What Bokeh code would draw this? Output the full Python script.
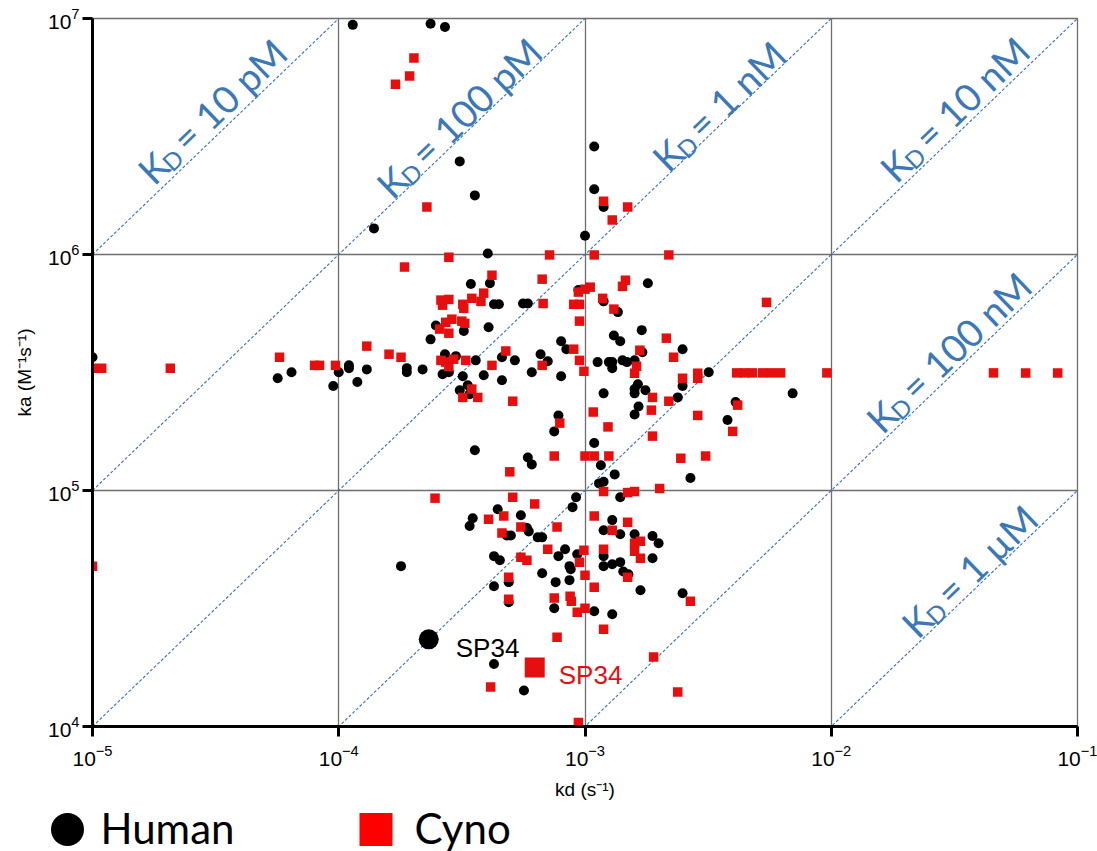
import math

from bokeh.core.properties import value
from bokeh.embed import file_html
from bokeh.layouts import column
from bokeh.models import ColumnDataSource, Range1d
from bokeh.plotting import figure
from bokeh.resources import INLINE

# Dissociation rate constants kd (1/s) and association rate constants ka (1/(M*s))
human_kd = [
    1.14e-4, 2.36e-4, 2.70e-4, 3.10e-4, 3.57e-4, 1.39e-4, 1.09e-3, 1.09e-3, 1.19e-3, 1.00e-3,
    4.03e-4, 3.44e-4, 4.11e-4, 1.80e-3, 4.27e-4, 4.47e-4, 5.60e-4, 5.86e-4, 9.40e-4, 1.19e-3,
    1.36e-3, 2.48e-4, 3.22e-4, 4.06e-4, 2.36e-4, 8.00e-4, 8.40e-4, 1.31e-3, 1.39e-3, 1.70e-3,
    1.71e-3, 2.49e-3, 2.70e-4, 2.99e-4, 3.60e-4, 4.60e-4, 5.19e-4, 6.60e-4, 7.06e-4, 6.08e-4,
    8.00e-4, 1.125e-3, 1.25e-3, 1.29e-3, 1.29e-3, 1.42e-3, 1.48e-3, 1.59e-3, 2.64e-4, 2.80e-4,
    3.19e-4, 3.88e-4, 4.60e-4, 3.34e-4, 3.10e-4, 3.40e-4, 1.10e-4, 1.10e-4, 1.00e-4, 9.50e-5,
    1.19e-4, 1.30e-4, 1.89e-4, 1.89e-4, 2.19e-4, 1.64e-3, 1.59e-3, 1.59e-3, 1.76e-3, 1.19e-3,
    2.49e-3, 2.38e-3, 1.65e-3, 1.59e-3, 7.80e-4, 7.50e-4, 3.57e-4, 1.09e-3, 5.86e-4, 6.08e-4,
    1.16e-3, 1.32e-3, 1.14e-3, 1.19e-3, 2.68e-3, 9.20e-4, 8.90e-4, 1.39e-3, 4.42e-4, 1.00e-5,
    5.65e-5, 6.43e-5, 3.18e-3, 4.09e-3, 3.79e-3, 6.97e-3, 3.50e-4, 3.40e-4, 5.49e-4, 1.29e-3,
    5.81e-4, 5.91e-4, 4.81e-4, 5.00e-4, 1.19e-3, 1.39e-3, 1.59e-3, 1.88e-3, 1.99e-3, 6.43e-4,
    6.70e-4, 8.30e-4, 7.80e-4, 9.30e-4, 1.19e-3, 4.27e-4, 4.51e-4, 8.65e-4, 8.75e-4, 1.19e-3,
    1.29e-3, 1.39e-3, 1.88e-3, 1.43e-3, 1.50e-3, 1.79e-4, 6.70e-4, 7.60e-4, 8.65e-4, 4.90e-4,
    4.27e-4, 1.68e-3, 2.49e-3, 4.90e-4, 7.50e-4, 1.09e-3, 1.29e-3, 4.27e-4, 5.65e-4,
]
human_ka = [
    9.4e6, 9.5e6, 9.2e6, 2.48e6, 1.78e6, 1.29e6, 2.87e6, 1.89e6, 1.59e6, 1.20e6,
    1.01e6, 7.50e5, 7.55e5, 7.55e5, 6.15e5, 6.15e5, 6.20e5, 6.20e5, 7.07e5, 6.33e5,
    5.70e5, 5.00e5, 4.74e5, 4.92e5, 4.37e5, 4.29e5, 3.97e5, 4.54e5, 4.29e5, 4.78e5,
    3.85e5, 3.97e5, 3.78e5, 3.71e5, 3.56e5, 3.67e5, 3.56e5, 3.78e5, 3.53e5, 3.17e5,
    3.05e5, 3.50e5, 3.50e5, 3.50e5, 3.30e5, 3.56e5, 3.50e5, 3.56e5, 3.11e5, 3.17e5,
    3.05e5, 3.08e5, 2.93e5, 2.79e5, 2.66e5, 2.56e5, 3.39e5, 3.30e5, 3.17e5, 2.77e5,
    2.88e5, 3.26e5, 3.30e5, 3.17e5, 3.26e5, 2.82e5, 2.69e5, 2.58e5, 2.66e5, 2.58e5,
    2.77e5, 2.48e5, 2.27e5, 2.10e5, 2.08e5, 1.78e5, 1.48e5, 1.59e5, 1.38e5, 1.29e5,
    1.28e5, 1.17e5, 1.07e5, 1.09e5, 1.13e5, 9.36e4, 8.50e4, 9.36e4, 8.33e4, 3.67e5,
    2.99e5, 3.17e5, 3.17e5, 2.37e5, 1.99e5, 2.58e5, 7.63e4, 7.07e4, 7.86e4, 7.49e4,
    6.93e4, 6.71e4, 6.45e4, 6.45e4, 6.78e4, 6.52e4, 6.52e4, 6.41e4, 5.98e4, 6.33e4,
    6.33e4, 5.64e4, 5.27e4, 5.37e4, 5.27e4, 5.27e4, 5.06e4, 4.78e4, 4.64e4, 4.78e4,
    4.87e4, 4.97e4, 5.16e4, 4.54e4, 4.42e4, 4.78e4, 4.46e4, 4.09e4, 4.17e4, 4.09e4,
    3.93e4, 3.78e4, 3.67e4, 3.36e4, 3.17e4, 3.08e4, 2.99e4, 1.84e4, 1.42e4,
]

cyno_kd = [
    2.02e-4, 1.94e-4, 1.70e-4, 2.28e-4, 1.19e-3, 1.49e-3, 1.29e-3, 2.80e-4, 1.85e-4, 7.18e-4,
    1.09e-3, 2.19e-3, 4.19e-4, 6.70e-4, 1.42e-3, 1.46e-3, 9.40e-4, 1.00e-3, 1.05e-3, 1.18e-3,
    1.31e-3, 9.00e-4, 9.50e-4, 9.50e-4, 6.76e-4, 2.60e-4, 2.80e-4, 2.64e-4, 3.19e-4, 3.22e-4,
    3.47e-4, 3.78e-4, 3.88e-4, 2.72e-4, 2.88e-4, 2.57e-4, 2.80e-4, 3.16e-4, 3.25e-4, 1.30e-4,
    1.60e-4, 1.79e-4, 9.70e-5, 2.60e-4, 2.72e-4, 2.80e-4, 2.93e-4, 3.28e-4, 4.19e-4, 4.77e-4,
    6.70e-4, 9.00e-4, 9.50e-4, 9.90e-4, 2.14e-3, 2.29e-3, 1.67e-3, 1.62e-3, 1.59e-3, 2.49e-3,
    2.87e-3, 2.87e-3, 3.47e-4, 3.19e-4, 3.67e-4, 5.09e-4, 1.88e-3, 2.19e-3, 1.86e-3, 1.08e-3,
    7.90e-4, 1.24e-3, 2.87e-3, 1.88e-3, 7.50e-4, 1.00e-3, 1.09e-3, 1.25e-3, 2.45e-3, 4.95e-4,
    1.19e-3, 1.49e-3, 1.59e-3, 2.01e-3, 5.46e-3, 4.13e-3, 4.45e-3, 4.79e-3, 5.27e-3, 5.72e-3,
    6.23e-3, 9.60e-3, 4.56e-2, 6.16e-2, 8.31e-2, 4.17e-3, 3.98e-3, 3.09e-3, 2.68e-3, 1.90e-3,
    2.38e-3, 5.75e-5, 1.00e-5, 1.09e-5, 2.07e-5, 7.98e-5, 8.36e-5, 1.00e-5, 2.46e-4, 5.09e-4,
    6.25e-4, 4.06e-4, 4.68e-4, 5.49e-4, 4.60e-4, 7.70e-4, 1.09e-3, 1.49e-3, 1.29e-3, 7.06e-4,
    5.49e-4, 5.81e-4, 9.90e-4, 9.50e-4, 1.19e-3, 1.59e-3, 1.68e-3, 1.59e-3, 1.68e-3, 1.00e-3,
    4.90e-4, 1.49e-3, 1.09e-3, 4.90e-4, 7.50e-4, 8.70e-4, 8.80e-4, 9.30e-4, 1.00e-3, 1.19e-3,
    7.70e-4, 4.14e-4, 9.40e-4,
]
cyno_ka = [
    6.80e6, 5.70e6, 5.27e6, 1.59e6, 1.68e6, 1.59e6, 1.40e6, 9.73e5, 8.85e5, 9.96e5,
    9.96e5, 9.96e5, 8.17e5, 7.86e5, 7.33e5, 7.78e5, 6.93e5, 7.13e5, 7.27e5, 6.52e5,
    5.87e5, 6.15e5, 6.15e5, 5.22e5, 6.20e5, 6.41e5, 6.45e5, 6.10e5, 6.15e5, 5.92e5,
    6.52e5, 6.33e5, 6.86e5, 5.16e5, 5.32e5, 4.83e5, 4.64e5, 5.22e5, 5.11e5, 4.09e5,
    3.78e5, 3.67e5, 3.39e5, 3.56e5, 3.50e5, 3.36e5, 3.60e5, 3.56e5, 3.39e5, 3.90e5,
    3.39e5, 3.97e5, 3.56e5, 3.20e5, 4.42e5, 3.67e5, 3.93e5, 3.36e5, 3.14e5, 2.99e5,
    3.14e5, 2.99e5, 2.69e5, 2.48e5, 2.48e5, 2.39e5, 2.48e5, 2.39e5, 2.19e5, 2.15e5,
    1.93e5, 1.86e5, 2.08e5, 1.70e5, 1.40e5, 1.40e5, 1.40e5, 1.40e5, 1.37e5, 1.20e5,
    9.90e4, 9.80e4, 9.90e4, 1.02e5, 6.27e5, 3.15e5, 3.15e5, 3.15e5, 3.15e5, 3.15e5,
    3.15e5, 3.15e5, 3.15e5, 3.15e5, 3.15e5, 2.30e5, 1.78e5, 1.40e5, 3.39e4, 1.97e4,
    1.40e4, 3.67e5, 3.30e5, 3.30e5, 3.30e5, 3.39e5, 3.39e5, 4.78e4, 9.28e4, 9.36e4,
    8.77e4, 7.55e4, 7.80e4, 7.00e4, 6.60e4, 7.00e4, 7.80e4, 7.33e4, 6.78e4, 5.64e4,
    5.22e4, 5.06e4, 5.58e4, 4.97e4, 5.64e4, 5.98e4, 6.10e4, 5.53e4, 5.16e4, 4.37e4,
    4.29e4, 4.29e4, 3.89e4, 3.46e4, 3.50e4, 3.56e4, 3.39e4, 3.05e4, 3.17e4, 2.58e4,
    2.39e4, 1.47e4, 1.04e4,
]

# Highlighted clone SP34
sp34_kd = [2.32e-4, 6.25e-4]
sp34_ka = [2.34e4, 1.78e4]
sp34_species = ["Human", "Cyno"]

# Iso-affinity lines KD = kd / ka and their labels
kd_constants = [1e-11, 1e-10, 1e-9, 1e-8, 1e-7, 1e-6]
kd_constant_labels = ["10 pM", "100 pM", "1 nM", "10 nM", "100 nM", "1 µM"]
label_kd_positions = [1.85e-5, 1.67e-4, 2.19e-3, 1.90e-2, 1.66e-2, 2.28e-2]
label_lift = [21, 16, 15, 20, 19, 17]

x_ticks = [1e-5, 1e-4, 1e-3, 1e-2, 1e-1]
y_ticks = [1e4, 1e5, 1e6, 1e7]

FRAME_W, FRAME_H = 985, 708
RED = "#e50f0f"
BLUE_LINE = "#3c6eb4"
BLUE_TEXT = "#3b78b5"
TICK_FONT = "Liberation Sans"
LABEL_FONT = "Lato"

p = figure(
    x_axis_type="log", y_axis_type="log",
    x_range=Range1d(x_ticks[0], x_ticks[-1]), y_range=Range1d(y_ticks[0], y_ticks[-1]),
    frame_width=FRAME_W, frame_height=FRAME_H,
    min_border_left=92, min_border_right=20, min_border_top=18, min_border_bottom=74,
    output_backend="svg", toolbar_location=None,
)
p.background_fill_color = "white"
p.border_fill_color = "white"
p.outline_line_color = "#6e6e6e"
p.outline_line_width = 1.3

p.xaxis.ticker = x_ticks
p.yaxis.ticker = y_ticks
p.grid.grid_line_color = "#6e6e6e"
p.grid.grid_line_width = 1.3

for ax in (p.xaxis[0], p.yaxis[0]):
    ax.axis_line_width = 3
    ax.axis_line_color = "black"
    ax.major_tick_line_width = 3
    ax.major_tick_line_color = "black"
    ax.major_tick_out = 10
    ax.major_tick_in = 0
    ax.minor_tick_line_color = None
    ax.major_label_text_font = TICK_FONT
    ax.major_label_text_font_size = "21px"
    ax.major_label_text_color = "black"
    ax.axis_label_text_font = TICK_FONT
    ax.axis_label_text_font_size = "19px"
    ax.axis_label_text_font_style = "normal"
    ax.axis_label_text_color = "black"
p.xaxis.major_label_standoff = 8
p.yaxis.major_label_standoff = 3
p.xaxis.axis_label_standoff = 10
p.yaxis.axis_label_standoff = 10
p.xaxis.axis_label = "kd (s⁻¹)"
p.yaxis.axis_label = "ka (M⁻¹s⁻¹)"

# Dashed iso-affinity diagonals
line_xs = [[x_ticks[0], x_ticks[-1]] for _ in kd_constants]
line_ys = [[x_ticks[0] / k, x_ticks[-1] / k] for k in kd_constants]
p.multi_line(line_xs, line_ys, line_color=BLUE_LINE, line_width=1.1, line_dash="3 2")

# Rotated "K_D = ..." labels, built from a main letter, a subscript and the value
theta = math.atan2(FRAME_H / 3, FRAME_W / 4)
cos_t, sin_t = math.cos(theta), math.sin(theta)


def shift(along, lift):
    return along * cos_t - lift * sin_t, -(along * sin_t + lift * cos_t)


pieces = {"x": [], "y": [], "text": [], "dx": [], "dy": [], "size": []}
for kdv, k, lab, lift in zip(label_kd_positions, kd_constants, kd_constant_labels, label_lift):
    for txt, along, dl, size in (("K", 0, 0, "38px"), ("D", 23, -8, "24px"), ("= " + lab, 47, 0, "38px")):
        ox, oy = shift(along, lift + dl)
        pieces["x"].append(kdv)
        pieces["y"].append(kdv / k)
        pieces["text"].append(txt)
        pieces["dx"].append(ox)
        pieces["dy"].append(oy)
        pieces["size"].append(size)
p.text(
    x="x", y="y", text="text", x_offset="dx", y_offset="dy", text_font_size="size",
    source=ColumnDataSource(pieces), angle=theta, text_align="left", text_baseline="alphabetic",
    text_font=value(LABEL_FONT), text_color=BLUE_TEXT,
)

# Measurements
p.scatter(human_kd, human_ka, marker="circle", size=10, fill_color="black", line_color=None)
p.scatter(cyno_kd, cyno_ka, marker="square", size=9.5, fill_color=RED, line_color=None)

# SP34 highlighted
p.scatter(sp34_kd[:1], sp34_ka[:1], marker="circle", size=20, fill_color="black", line_color=None)
p.scatter(sp34_kd[1:], sp34_ka[1:], marker="square", size=20, fill_color=RED, line_color=None)
p.text(
    x=sp34_kd, y=sp34_ka, text=["SP34", "SP34"], x_offset=[27, 24], y_offset=[9, 8],
    text_color=["black", RED], text_font=value(TICK_FONT), text_font_size="26px",
    text_baseline="alphabetic", text_align="left",
)

# Legend row
LEG_W, LEG_H = 1097, 51
leg = figure(
    frame_width=LEG_W, frame_height=LEG_H, x_range=Range1d(0, LEG_W), y_range=Range1d(0, LEG_H),
    x_axis_location=None, y_axis_location=None, min_border=0,
    output_backend="svg", toolbar_location=None,
)
leg.frame_align = False
leg.grid.visible = False
leg.outline_line_color = None
leg.scatter([67], [24], marker="circle", size=33, fill_color="black", line_color=None)
leg.scatter([375.5], [24], marker="square", size=33, fill_color="#ff0000", line_color=None)
leg.text(
    x=[100, 414], y=[25.5, 25.5], text=sp34_species, text_font=value(LABEL_FONT), text_font_size="42px",
    text_color="black", text_baseline="middle", text_align="left",
)

p.frame_align = False
layout = column(p, leg, spacing=0)
open("out.html", "w").write(file_html(layout, INLINE))
